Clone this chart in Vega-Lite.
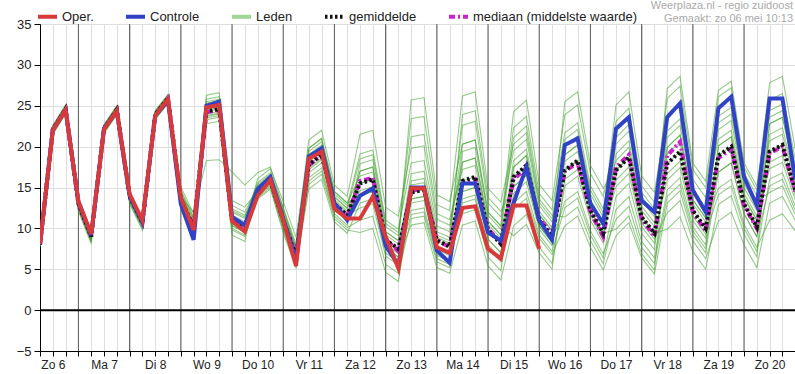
{
"$schema":"https://vega.github.io/schema/vega-lite/v6.json",
"width":755,"height":327,"autosize":"none",
"padding":{"left":40,"top":24,"right":0,"bottom":23},
"background":"#ffffff",
"config":{"font":"Liberation Sans","view":{"stroke":"#333","strokeWidth":1},
"axis":{"title":null,"grid":true,"gridColor":"#dedede","gridWidth":1,"domainColor":"#000","tickColor":"#000","tickSize":5,"labelColor":"#222","labelFont":"Liberation Sans"}},
"title":{"text":"Weerplaza.nl - regio zuidoost","subtitle":"Gemaakt: zo 06 mei 10:13","anchor":"end","frame":"group","fontSize":11,"subtitleFontSize":11,"fontWeight":"normal","color":"#aaaaaa","subtitleColor":"#aaaaaa","font":"Liberation Sans","subtitleFont":"Liberation Sans","offset":-19,"subtitlePadding":2,"dx":-2},
"datasets":{
"days":[{"h":24},{"h":48},{"h":72},{"h":96},{"h":120},{"h":144},{"h":168},{"h":192},{"h":216},{"h":240},{"h":264},{"h":288},{"h":312},{"h":336}],
"main":[
{"s":"Oper.","h":6,"t":8.1},{"s":"Oper.","h":12,"t":22.0},{"s":"Oper.","h":18,"t":24.5},{"s":"Oper.","h":24,"t":13.3},{"s":"Oper.","h":30,"t":9.3},{"s":"Oper.","h":36,"t":22.1},{"s":"Oper.","h":42,"t":24.4},{"s":"Oper.","h":48,"t":14.2},{"s":"Oper.","h":54,"t":11.0},{"s":"Oper.","h":60,"t":23.8},{"s":"Oper.","h":66,"t":25.8},{"s":"Oper.","h":72,"t":13.8},{"s":"Oper.","h":78,"t":9.8},{"s":"Oper.","h":84,"t":24.8},{"s":"Oper.","h":90,"t":25.1},{"s":"Oper.","h":96,"t":10.9},{"s":"Oper.","h":102,"t":9.6},{"s":"Oper.","h":108,"t":14.0},{"s":"Oper.","h":114,"t":15.9},{"s":"Oper.","h":120,"t":11.0},{"s":"Oper.","h":126,"t":5.4},{"s":"Oper.","h":132,"t":18.5},{"s":"Oper.","h":138,"t":19.4},{"s":"Oper.","h":144,"t":12.4},{"s":"Oper.","h":150,"t":11.2},{"s":"Oper.","h":156,"t":11.2},{"s":"Oper.","h":162,"t":13.9},{"s":"Oper.","h":168,"t":9.0},{"s":"Oper.","h":174,"t":5.1},{"s":"Oper.","h":180,"t":14.9},{"s":"Oper.","h":186,"t":14.9},{"s":"Oper.","h":192,"t":7.7},{"s":"Oper.","h":198,"t":7.0},{"s":"Oper.","h":204,"t":12.5},{"s":"Oper.","h":210,"t":12.7},{"s":"Oper.","h":216,"t":7.5},{"s":"Oper.","h":222,"t":6.3},{"s":"Oper.","h":228,"t":12.8},{"s":"Oper.","h":234,"t":12.8},{"s":"Oper.","h":240,"t":7.5},
{"s":"Controle","h":6,"t":8.0},{"s":"Controle","h":12,"t":22.0},{"s":"Controle","h":18,"t":24.5},{"s":"Controle","h":24,"t":13.3},{"s":"Controle","h":30,"t":9.2},{"s":"Controle","h":36,"t":22.2},{"s":"Controle","h":42,"t":24.3},{"s":"Controle","h":48,"t":14.0},{"s":"Controle","h":54,"t":10.8},{"s":"Controle","h":60,"t":23.8},{"s":"Controle","h":66,"t":25.6},{"s":"Controle","h":72,"t":13.0},{"s":"Controle","h":78,"t":8.6},{"s":"Controle","h":84,"t":25.0},{"s":"Controle","h":90,"t":25.5},{"s":"Controle","h":96,"t":11.4},{"s":"Controle","h":102,"t":10.4},{"s":"Controle","h":108,"t":14.8},{"s":"Controle","h":114,"t":16.3},{"s":"Controle","h":120,"t":11.2},{"s":"Controle","h":126,"t":6.0},{"s":"Controle","h":132,"t":18.8},{"s":"Controle","h":138,"t":19.8},{"s":"Controle","h":144,"t":13.1},{"s":"Controle","h":150,"t":11.0},{"s":"Controle","h":156,"t":14.0},{"s":"Controle","h":162,"t":14.9},{"s":"Controle","h":168,"t":7.9},{"s":"Controle","h":174,"t":5.5},{"s":"Controle","h":180,"t":15.0},{"s":"Controle","h":186,"t":15.0},{"s":"Controle","h":192,"t":7.3},{"s":"Controle","h":198,"t":5.8},{"s":"Controle","h":204,"t":15.5},{"s":"Controle","h":210,"t":15.5},{"s":"Controle","h":216,"t":9.5},{"s":"Controle","h":222,"t":8.5},{"s":"Controle","h":228,"t":13.1},{"s":"Controle","h":234,"t":17.5},{"s":"Controle","h":240,"t":11.0},{"s":"Controle","h":246,"t":8.6},{"s":"Controle","h":252,"t":20.2},{"s":"Controle","h":258,"t":21.0},{"s":"Controle","h":264,"t":13.0},{"s":"Controle","h":270,"t":10.6},{"s":"Controle","h":276,"t":22.2},{"s":"Controle","h":282,"t":23.6},{"s":"Controle","h":288,"t":13.4},{"s":"Controle","h":294,"t":12.0},{"s":"Controle","h":300,"t":23.6},{"s":"Controle","h":306,"t":25.3},{"s":"Controle","h":312,"t":14.7},{"s":"Controle","h":318,"t":12.0},{"s":"Controle","h":324,"t":24.7},{"s":"Controle","h":330,"t":26.1},{"s":"Controle","h":336,"t":16.3},{"s":"Controle","h":342,"t":12.8},{"s":"Controle","h":348,"t":25.9},{"s":"Controle","h":354,"t":25.9},{"s":"Controle","h":360,"t":16.0},
{"s":"gemiddelde","h":6,"t":8.0},{"s":"gemiddelde","h":12,"t":22.1},{"s":"gemiddelde","h":18,"t":24.6},{"s":"gemiddelde","h":24,"t":13.0},{"s":"gemiddelde","h":30,"t":9.0},{"s":"gemiddelde","h":36,"t":22.2},{"s":"gemiddelde","h":42,"t":24.5},{"s":"gemiddelde","h":48,"t":13.9},{"s":"gemiddelde","h":54,"t":10.7},{"s":"gemiddelde","h":60,"t":23.9},{"s":"gemiddelde","h":66,"t":25.9},{"s":"gemiddelde","h":72,"t":13.5},{"s":"gemiddelde","h":78,"t":10.2},{"s":"gemiddelde","h":84,"t":24.3},{"s":"gemiddelde","h":90,"t":24.6},{"s":"gemiddelde","h":96,"t":11.0},{"s":"gemiddelde","h":102,"t":10.2},{"s":"gemiddelde","h":108,"t":14.6},{"s":"gemiddelde","h":114,"t":15.8},{"s":"gemiddelde","h":120,"t":11.0},{"s":"gemiddelde","h":126,"t":6.6},{"s":"gemiddelde","h":132,"t":17.8},{"s":"gemiddelde","h":138,"t":19.0},{"s":"gemiddelde","h":144,"t":13.0},{"s":"gemiddelde","h":150,"t":11.6},{"s":"gemiddelde","h":156,"t":15.5},{"s":"gemiddelde","h":162,"t":16.0},{"s":"gemiddelde","h":168,"t":8.6},{"s":"gemiddelde","h":174,"t":7.5},{"s":"gemiddelde","h":180,"t":14.4},{"s":"gemiddelde","h":186,"t":14.7},{"s":"gemiddelde","h":192,"t":8.5},{"s":"gemiddelde","h":198,"t":7.8},{"s":"gemiddelde","h":204,"t":15.8},{"s":"gemiddelde","h":210,"t":16.3},{"s":"gemiddelde","h":216,"t":9.8},{"s":"gemiddelde","h":222,"t":8.1},{"s":"gemiddelde","h":228,"t":16.3},{"s":"gemiddelde","h":234,"t":17.7},{"s":"gemiddelde","h":240,"t":11.0},{"s":"gemiddelde","h":246,"t":9.0},{"s":"gemiddelde","h":252,"t":17.1},{"s":"gemiddelde","h":258,"t":18.3},{"s":"gemiddelde","h":264,"t":12.2},{"s":"gemiddelde","h":270,"t":9.4},{"s":"gemiddelde","h":276,"t":17.1},{"s":"gemiddelde","h":282,"t":18.7},{"s":"gemiddelde","h":288,"t":11.4},{"s":"gemiddelde","h":294,"t":9.4},{"s":"gemiddelde","h":300,"t":17.9},{"s":"gemiddelde","h":306,"t":19.4},{"s":"gemiddelde","h":312,"t":12.2},{"s":"gemiddelde","h":318,"t":10.0},{"s":"gemiddelde","h":324,"t":18.9},{"s":"gemiddelde","h":330,"t":20.0},{"s":"gemiddelde","h":336,"t":13.0},{"s":"gemiddelde","h":342,"t":10.2},{"s":"gemiddelde","h":348,"t":19.4},{"s":"gemiddelde","h":354,"t":20.2},{"s":"gemiddelde","h":360,"t":14.7},
{"s":"mediaan (middelste waarde)","h":6,"t":8.0},{"s":"mediaan (middelste waarde)","h":12,"t":22.1},{"s":"mediaan (middelste waarde)","h":18,"t":24.6},{"s":"mediaan (middelste waarde)","h":24,"t":13.0},{"s":"mediaan (middelste waarde)","h":30,"t":9.0},{"s":"mediaan (middelste waarde)","h":36,"t":22.2},{"s":"mediaan (middelste waarde)","h":42,"t":24.5},{"s":"mediaan (middelste waarde)","h":48,"t":13.9},{"s":"mediaan (middelste waarde)","h":54,"t":10.7},{"s":"mediaan (middelste waarde)","h":60,"t":23.9},{"s":"mediaan (middelste waarde)","h":66,"t":25.9},{"s":"mediaan (middelste waarde)","h":72,"t":13.5},{"s":"mediaan (middelste waarde)","h":78,"t":10.2},{"s":"mediaan (middelste waarde)","h":84,"t":24.2},{"s":"mediaan (middelste waarde)","h":90,"t":24.5},{"s":"mediaan (middelste waarde)","h":96,"t":11.0},{"s":"mediaan (middelste waarde)","h":102,"t":10.1},{"s":"mediaan (middelste waarde)","h":108,"t":14.6},{"s":"mediaan (middelste waarde)","h":114,"t":15.8},{"s":"mediaan (middelste waarde)","h":120,"t":11.0},{"s":"mediaan (middelste waarde)","h":126,"t":6.7},{"s":"mediaan (middelste waarde)","h":132,"t":17.7},{"s":"mediaan (middelste waarde)","h":138,"t":19.0},{"s":"mediaan (middelste waarde)","h":144,"t":13.0},{"s":"mediaan (middelste waarde)","h":150,"t":11.5},{"s":"mediaan (middelste waarde)","h":156,"t":15.8},{"s":"mediaan (middelste waarde)","h":162,"t":16.2},{"s":"mediaan (middelste waarde)","h":168,"t":8.7},{"s":"mediaan (middelste waarde)","h":174,"t":7.2},{"s":"mediaan (middelste waarde)","h":180,"t":14.6},{"s":"mediaan (middelste waarde)","h":186,"t":14.9},{"s":"mediaan (middelste waarde)","h":192,"t":8.6},{"s":"mediaan (middelste waarde)","h":198,"t":7.7},{"s":"mediaan (middelste waarde)","h":204,"t":15.5},{"s":"mediaan (middelste waarde)","h":210,"t":16.0},{"s":"mediaan (middelste waarde)","h":216,"t":9.9},{"s":"mediaan (middelste waarde)","h":222,"t":8.3},{"s":"mediaan (middelste waarde)","h":228,"t":16.0},{"s":"mediaan (middelste waarde)","h":234,"t":17.4},{"s":"mediaan (middelste waarde)","h":240,"t":11.2},{"s":"mediaan (middelste waarde)","h":246,"t":9.3},{"s":"mediaan (middelste waarde)","h":252,"t":17.0},{"s":"mediaan (middelste waarde)","h":258,"t":18.0},{"s":"mediaan (middelste waarde)","h":264,"t":12.0},{"s":"mediaan (middelste waarde)","h":270,"t":9.0},{"s":"mediaan (middelste waarde)","h":276,"t":17.5},{"s":"mediaan (middelste waarde)","h":282,"t":19.0},{"s":"mediaan (middelste waarde)","h":288,"t":11.2},{"s":"mediaan (middelste waarde)","h":294,"t":9.0},{"s":"mediaan (middelste waarde)","h":300,"t":18.9},{"s":"mediaan (middelste waarde)","h":306,"t":20.6},{"s":"mediaan (middelste waarde)","h":312,"t":12.0},{"s":"mediaan (middelste waarde)","h":318,"t":9.7},{"s":"mediaan (middelste waarde)","h":324,"t":18.6},{"s":"mediaan (middelste waarde)","h":330,"t":19.7},{"s":"mediaan (middelste waarde)","h":336,"t":12.8},{"s":"mediaan (middelste waarde)","h":342,"t":10.0},{"s":"mediaan (middelste waarde)","h":348,"t":19.2},{"s":"mediaan (middelste waarde)","h":354,"t":20.0},{"s":"mediaan (middelste waarde)","h":360,"t":14.5}
],
"leden":[
{"i":1,"h":6,"t":8.0},{"i":1,"h":12,"t":22.2},{"i":1,"h":18,"t":24.7},{"i":1,"h":24,"t":13.0},{"i":1,"h":30,"t":9.0},{"i":1,"h":36,"t":22.3},{"i":1,"h":42,"t":24.6},{"i":1,"h":48,"t":13.9},{"i":1,"h":54,"t":10.7},{"i":1,"h":60,"t":24.0},{"i":1,"h":66,"t":26.0},{"i":1,"h":72,"t":13.9},{"i":1,"h":78,"t":10.6},{"i":1,"h":84,"t":24.8},{"i":1,"h":90,"t":25.1},{"i":1,"h":96,"t":11.6},{"i":1,"h":102,"t":10.8},{"i":1,"h":108,"t":14.9},{"i":1,"h":114,"t":16.1},{"i":1,"h":120,"t":11.5},{"i":1,"h":126,"t":7.1},{"i":1,"h":132,"t":18.8},{"i":1,"h":138,"t":20.0},{"i":1,"h":144,"t":13.8},{"i":1,"h":150,"t":12.4},{"i":1,"h":156,"t":18.5},{"i":1,"h":162,"t":19.0},{"i":1,"h":168,"t":10.6},{"i":1,"h":174,"t":9.5},{"i":1,"h":180,"t":23.4},{"i":1,"h":186,"t":23.7},{"i":1,"h":192,"t":12.9},{"i":1,"h":198,"t":12.2},{"i":1,"h":204,"t":26.2},{"i":1,"h":210,"t":26.7},{"i":1,"h":216,"t":14.9},{"i":1,"h":222,"t":13.2},{"i":1,"h":228,"t":20.3},{"i":1,"h":234,"t":21.7},{"i":1,"h":240,"t":13.2},{"i":1,"h":246,"t":11.2},{"i":1,"h":252,"t":19.0},{"i":1,"h":258,"t":20.2},{"i":1,"h":264,"t":13.5},{"i":1,"h":270,"t":10.7},{"i":1,"h":276,"t":17.1},{"i":1,"h":282,"t":18.7},{"i":1,"h":288,"t":11.4},{"i":1,"h":294,"t":9.4},{"i":1,"h":300,"t":15.9},{"i":1,"h":306,"t":17.4},{"i":1,"h":312,"t":11.0},{"i":1,"h":318,"t":8.8},{"i":1,"h":324,"t":20.1},{"i":1,"h":330,"t":21.2},{"i":1,"h":336,"t":13.8},{"i":1,"h":342,"t":11.0},{"i":1,"h":348,"t":22.8},{"i":1,"h":354,"t":23.6},{"i":1,"h":360,"t":16.7},
{"i":2,"h":6,"t":7.9},{"i":2,"h":12,"t":21.7},{"i":2,"h":18,"t":24.2},{"i":2,"h":24,"t":12.5},{"i":2,"h":30,"t":8.5},{"i":2,"h":36,"t":21.8},{"i":2,"h":42,"t":24.1},{"i":2,"h":48,"t":13.4},{"i":2,"h":54,"t":10.2},{"i":2,"h":60,"t":23.5},{"i":2,"h":66,"t":25.5},{"i":2,"h":72,"t":13.1},{"i":2,"h":78,"t":9.8},{"i":2,"h":84,"t":23.8},{"i":2,"h":90,"t":24.1},{"i":2,"h":96,"t":10.4},{"i":2,"h":102,"t":9.6},{"i":2,"h":108,"t":14.1},{"i":2,"h":114,"t":15.3},{"i":2,"h":120,"t":10.3},{"i":2,"h":126,"t":5.9},{"i":2,"h":132,"t":15.8},{"i":2,"h":138,"t":17.0},{"i":2,"h":144,"t":11.5},{"i":2,"h":150,"t":10.1},{"i":2,"h":156,"t":11.0},{"i":2,"h":162,"t":11.5},{"i":2,"h":168,"t":5.6},{"i":2,"h":174,"t":4.5},{"i":2,"h":180,"t":11.2},{"i":2,"h":186,"t":11.5},{"i":2,"h":192,"t":5.9},{"i":2,"h":198,"t":5.2},{"i":2,"h":204,"t":14.5},{"i":2,"h":210,"t":15.0},{"i":2,"h":216,"t":8.7},{"i":2,"h":222,"t":7.0},{"i":2,"h":228,"t":17.5},{"i":2,"h":234,"t":18.9},{"i":2,"h":240,"t":11.7},{"i":2,"h":246,"t":9.7},{"i":2,"h":252,"t":20.9},{"i":2,"h":258,"t":22.1},{"i":2,"h":264,"t":14.7},{"i":2,"h":270,"t":11.9},{"i":2,"h":276,"t":23.1},{"i":2,"h":282,"t":24.7},{"i":2,"h":288,"t":15.2},{"i":2,"h":294,"t":13.2},{"i":2,"h":300,"t":25.9},{"i":2,"h":306,"t":27.4},{"i":2,"h":312,"t":17.2},{"i":2,"h":318,"t":15.0},{"i":2,"h":324,"t":24.9},{"i":2,"h":330,"t":26.0},{"i":2,"h":336,"t":16.8},{"i":2,"h":342,"t":14.0},{"i":2,"h":348,"t":23.6},{"i":2,"h":354,"t":24.4},{"i":2,"h":360,"t":17.2},
{"i":3,"h":6,"t":8.1},{"i":3,"h":12,"t":22.5},{"i":3,"h":18,"t":25.0},{"i":3,"h":24,"t":13.2},{"i":3,"h":30,"t":9.2},{"i":3,"h":36,"t":22.6},{"i":3,"h":42,"t":24.9},{"i":3,"h":48,"t":14.1},{"i":3,"h":54,"t":10.9},{"i":3,"h":60,"t":24.3},{"i":3,"h":66,"t":26.3},{"i":3,"h":72,"t":14.3},{"i":3,"h":78,"t":11.0},{"i":3,"h":84,"t":25.3},{"i":3,"h":90,"t":25.6},{"i":3,"h":96,"t":12.2},{"i":3,"h":102,"t":11.4},{"i":3,"h":108,"t":15.6},{"i":3,"h":114,"t":16.8},{"i":3,"h":120,"t":12.5},{"i":3,"h":126,"t":8.1},{"i":3,"h":132,"t":20.8},{"i":3,"h":138,"t":22.0},{"i":3,"h":144,"t":15.3},{"i":3,"h":150,"t":13.9},{"i":3,"h":156,"t":21.5},{"i":3,"h":162,"t":22.0},{"i":3,"h":168,"t":12.6},{"i":3,"h":174,"t":11.5},{"i":3,"h":180,"t":19.8},{"i":3,"h":186,"t":20.1},{"i":3,"h":192,"t":11.1},{"i":3,"h":198,"t":10.4},{"i":3,"h":204,"t":18.1},{"i":3,"h":210,"t":18.6},{"i":3,"h":216,"t":10.9},{"i":3,"h":222,"t":9.2},{"i":3,"h":228,"t":15.1},{"i":3,"h":234,"t":16.5},{"i":3,"h":240,"t":10.3},{"i":3,"h":246,"t":8.3},{"i":3,"h":252,"t":13.3},{"i":3,"h":258,"t":14.5},{"i":3,"h":264,"t":9.7},{"i":3,"h":270,"t":6.9},{"i":3,"h":276,"t":11.1},{"i":3,"h":282,"t":12.7},{"i":3,"h":288,"t":7.7},{"i":3,"h":294,"t":5.7},{"i":3,"h":300,"t":13.9},{"i":3,"h":306,"t":15.4},{"i":3,"h":312,"t":9.7},{"i":3,"h":318,"t":7.5},{"i":3,"h":324,"t":18.9},{"i":3,"h":330,"t":20.0},{"i":3,"h":336,"t":13.0},{"i":3,"h":342,"t":10.2},{"i":3,"h":348,"t":21.5},{"i":3,"h":354,"t":22.3},{"i":3,"h":360,"t":16.0},
{"i":4,"h":6,"t":7.7},{"i":4,"h":12,"t":21.5},{"i":4,"h":18,"t":24.0},{"i":4,"h":24,"t":12.1},{"i":4,"h":30,"t":8.1},{"i":4,"h":36,"t":21.6},{"i":4,"h":42,"t":23.9},{"i":4,"h":48,"t":13.0},{"i":4,"h":54,"t":9.8},{"i":4,"h":60,"t":23.3},{"i":4,"h":66,"t":25.3},{"i":4,"h":72,"t":12.7},{"i":4,"h":78,"t":9.4},{"i":4,"h":84,"t":23.3},{"i":4,"h":90,"t":23.6},{"i":4,"h":96,"t":9.8},{"i":4,"h":102,"t":9.0},{"i":4,"h":108,"t":13.6},{"i":4,"h":114,"t":14.8},{"i":4,"h":120,"t":9.5},{"i":4,"h":126,"t":5.1},{"i":4,"h":132,"t":16.8},{"i":4,"h":138,"t":18.0},{"i":4,"h":144,"t":12.3},{"i":4,"h":150,"t":10.9},{"i":4,"h":156,"t":15.5},{"i":4,"h":162,"t":16.0},{"i":4,"h":168,"t":8.6},{"i":4,"h":174,"t":7.5},{"i":4,"h":180,"t":16.7},{"i":4,"h":186,"t":17.0},{"i":4,"h":192,"t":9.6},{"i":4,"h":198,"t":8.9},{"i":4,"h":204,"t":20.3},{"i":4,"h":210,"t":20.8},{"i":4,"h":216,"t":12.0},{"i":4,"h":222,"t":10.3},{"i":4,"h":228,"t":24.3},{"i":4,"h":234,"t":25.7},{"i":4,"h":240,"t":15.4},{"i":4,"h":246,"t":13.4},{"i":4,"h":252,"t":23.9},{"i":4,"h":258,"t":25.1},{"i":4,"h":264,"t":16.7},{"i":4,"h":270,"t":13.9},{"i":4,"h":276,"t":21.1},{"i":4,"h":282,"t":22.7},{"i":4,"h":288,"t":13.9},{"i":4,"h":294,"t":11.9},{"i":4,"h":300,"t":19.9},{"i":4,"h":306,"t":21.4},{"i":4,"h":312,"t":13.5},{"i":4,"h":318,"t":11.3},{"i":4,"h":324,"t":16.9},{"i":4,"h":330,"t":18.0},{"i":4,"h":336,"t":11.8},{"i":4,"h":342,"t":9.0},{"i":4,"h":348,"t":15.2},{"i":4,"h":354,"t":16.0},{"i":4,"h":360,"t":12.2},
{"i":5,"h":6,"t":8.1},{"i":5,"h":12,"t":22.1},{"i":5,"h":18,"t":24.6},{"i":5,"h":24,"t":13.3},{"i":5,"h":30,"t":9.3},{"i":5,"h":36,"t":22.2},{"i":5,"h":42,"t":24.5},{"i":5,"h":48,"t":14.2},{"i":5,"h":54,"t":11.0},{"i":5,"h":60,"t":23.9},{"i":5,"h":66,"t":25.9},{"i":5,"h":72,"t":13.7},{"i":5,"h":78,"t":10.4},{"i":5,"h":84,"t":24.5},{"i":5,"h":90,"t":24.8},{"i":5,"h":96,"t":11.2},{"i":5,"h":102,"t":10.4},{"i":5,"h":108,"t":14.6},{"i":5,"h":114,"t":15.8},{"i":5,"h":120,"t":11.0},{"i":5,"h":126,"t":6.6},{"i":5,"h":132,"t":18.4},{"i":5,"h":138,"t":19.6},{"i":5,"h":144,"t":13.5},{"i":5,"h":150,"t":12.1},{"i":5,"h":156,"t":14.0},{"i":5,"h":162,"t":14.5},{"i":5,"h":168,"t":7.6},{"i":5,"h":174,"t":6.5},{"i":5,"h":180,"t":10.4},{"i":5,"h":186,"t":10.7},{"i":5,"h":192,"t":5.2},{"i":5,"h":198,"t":4.5},{"i":5,"h":204,"t":10.4},{"i":5,"h":210,"t":10.9},{"i":5,"h":216,"t":5.4},{"i":5,"h":222,"t":3.7},{"i":5,"h":228,"t":10.3},{"i":5,"h":234,"t":11.7},{"i":5,"h":240,"t":7.7},{"i":5,"h":246,"t":5.7},{"i":5,"h":252,"t":15.2},{"i":5,"h":258,"t":16.4},{"i":5,"h":264,"t":11.0},{"i":5,"h":270,"t":8.2},{"i":5,"h":276,"t":19.1},{"i":5,"h":282,"t":20.7},{"i":5,"h":288,"t":12.7},{"i":5,"h":294,"t":10.7},{"i":5,"h":300,"t":21.9},{"i":5,"h":306,"t":23.4},{"i":5,"h":312,"t":14.7},{"i":5,"h":318,"t":12.5},{"i":5,"h":324,"t":26.1},{"i":5,"h":330,"t":27.2},{"i":5,"h":336,"t":17.5},{"i":5,"h":342,"t":14.7},{"i":5,"h":348,"t":27.8},{"i":5,"h":354,"t":28.6},{"i":5,"h":360,"t":19.7},
{"i":6,"h":6,"t":8.0},{"i":6,"h":12,"t":22.3},{"i":6,"h":18,"t":24.8},{"i":6,"h":24,"t":12.8},{"i":6,"h":30,"t":8.8},{"i":6,"h":36,"t":22.4},{"i":6,"h":42,"t":24.7},{"i":6,"h":48,"t":13.7},{"i":6,"h":54,"t":10.5},{"i":6,"h":60,"t":24.1},{"i":6,"h":66,"t":26.1},{"i":6,"h":72,"t":14.7},{"i":6,"h":78,"t":11.4},{"i":6,"h":84,"t":25.8},{"i":6,"h":90,"t":26.1},{"i":6,"h":96,"t":12.8},{"i":6,"h":102,"t":12.0},{"i":6,"h":108,"t":15.1},{"i":6,"h":114,"t":16.3},{"i":6,"h":120,"t":11.8},{"i":6,"h":126,"t":7.4},{"i":6,"h":132,"t":17.2},{"i":6,"h":138,"t":18.4},{"i":6,"h":144,"t":12.6},{"i":6,"h":150,"t":11.2},{"i":6,"h":156,"t":17.0},{"i":6,"h":162,"t":17.5},{"i":6,"h":168,"t":9.6},{"i":6,"h":174,"t":8.5},{"i":6,"h":180,"t":14.4},{"i":6,"h":186,"t":14.7},{"i":6,"h":192,"t":8.5},{"i":6,"h":198,"t":7.8},{"i":6,"h":204,"t":14.5},{"i":6,"h":210,"t":15.0},{"i":6,"h":216,"t":8.7},{"i":6,"h":222,"t":7.0},{"i":6,"h":228,"t":12.3},{"i":6,"h":234,"t":13.7},{"i":6,"h":240,"t":8.8},{"i":6,"h":246,"t":6.8},{"i":6,"h":252,"t":10.3},{"i":6,"h":258,"t":11.5},{"i":6,"h":264,"t":7.7},{"i":6,"h":270,"t":4.9},{"i":6,"h":276,"t":9.1},{"i":6,"h":282,"t":10.7},{"i":6,"h":288,"t":6.4},{"i":6,"h":294,"t":4.4},{"i":6,"h":300,"t":13.1},{"i":6,"h":306,"t":14.6},{"i":6,"h":312,"t":9.2},{"i":6,"h":318,"t":7.0},{"i":6,"h":324,"t":16.9},{"i":6,"h":330,"t":18.0},{"i":6,"h":336,"t":11.8},{"i":6,"h":342,"t":9.0},{"i":6,"h":348,"t":19.4},{"i":6,"h":354,"t":20.2},{"i":6,"h":360,"t":14.7},
{"i":7,"h":6,"t":7.8},{"i":7,"h":12,"t":21.8},{"i":7,"h":18,"t":24.3},{"i":7,"h":24,"t":12.4},{"i":7,"h":30,"t":8.4},{"i":7,"h":36,"t":21.9},{"i":7,"h":42,"t":24.2},{"i":7,"h":48,"t":13.3},{"i":7,"h":54,"t":10.1},{"i":7,"h":60,"t":23.6},{"i":7,"h":66,"t":25.6},{"i":7,"h":72,"t":13.3},{"i":7,"h":78,"t":10.0},{"i":7,"h":84,"t":24.0},{"i":7,"h":90,"t":24.3},{"i":7,"h":96,"t":10.6},{"i":7,"h":102,"t":9.8},{"i":7,"h":108,"t":14.3},{"i":7,"h":114,"t":15.5},{"i":7,"h":120,"t":10.6},{"i":7,"h":126,"t":6.2},{"i":7,"h":132,"t":19.4},{"i":7,"h":138,"t":20.6},{"i":7,"h":144,"t":14.2},{"i":7,"h":150,"t":12.8},{"i":7,"h":156,"t":19.1},{"i":7,"h":162,"t":19.6},{"i":7,"h":168,"t":11.0},{"i":7,"h":174,"t":9.9},{"i":7,"h":180,"t":18.0},{"i":7,"h":186,"t":18.3},{"i":7,"h":192,"t":10.3},{"i":7,"h":198,"t":9.6},{"i":7,"h":204,"t":22.6},{"i":7,"h":210,"t":23.1},{"i":7,"h":216,"t":13.1},{"i":7,"h":222,"t":11.4},{"i":7,"h":228,"t":19.5},{"i":7,"h":234,"t":20.9},{"i":7,"h":240,"t":12.8},{"i":7,"h":246,"t":10.8},{"i":7,"h":252,"t":17.1},{"i":7,"h":258,"t":18.3},{"i":7,"h":264,"t":12.2},{"i":7,"h":270,"t":9.4},{"i":7,"h":276,"t":15.1},{"i":7,"h":282,"t":16.7},{"i":7,"h":288,"t":10.2},{"i":7,"h":294,"t":8.2},{"i":7,"h":300,"t":17.9},{"i":7,"h":306,"t":19.4},{"i":7,"h":312,"t":12.2},{"i":7,"h":318,"t":10.0},{"i":7,"h":324,"t":22.9},{"i":7,"h":330,"t":24.0},{"i":7,"h":336,"t":15.5},{"i":7,"h":342,"t":12.7},{"i":7,"h":348,"t":25.7},{"i":7,"h":354,"t":26.5},{"i":7,"h":360,"t":18.5},
{"i":8,"h":6,"t":8.2},{"i":8,"h":12,"t":22.6},{"i":8,"h":18,"t":25.1},{"i":8,"h":24,"t":13.5},{"i":8,"h":30,"t":9.5},{"i":8,"h":36,"t":22.7},{"i":8,"h":42,"t":25.0},{"i":8,"h":48,"t":14.4},{"i":8,"h":54,"t":11.2},{"i":8,"h":60,"t":24.4},{"i":8,"h":66,"t":26.4},{"i":8,"h":72,"t":14.1},{"i":8,"h":78,"t":10.8},{"i":8,"h":84,"t":25.1},{"i":8,"h":90,"t":25.4},{"i":8,"h":96,"t":12.0},{"i":8,"h":102,"t":11.2},{"i":8,"h":108,"t":15.4},{"i":8,"h":114,"t":16.6},{"i":8,"h":120,"t":12.2},{"i":8,"h":126,"t":7.8},{"i":8,"h":132,"t":17.8},{"i":8,"h":138,"t":19.0},{"i":8,"h":144,"t":13.0},{"i":8,"h":150,"t":11.6},{"i":8,"h":156,"t":12.5},{"i":8,"h":162,"t":13.0},{"i":8,"h":168,"t":6.6},{"i":8,"h":174,"t":5.5},{"i":8,"h":180,"t":13.1},{"i":8,"h":186,"t":13.4},{"i":8,"h":192,"t":7.4},{"i":8,"h":198,"t":6.7},{"i":8,"h":204,"t":15.8},{"i":8,"h":210,"t":16.3},{"i":8,"h":216,"t":9.8},{"i":8,"h":222,"t":8.1},{"i":8,"h":228,"t":18.3},{"i":8,"h":234,"t":19.7},{"i":8,"h":240,"t":12.1},{"i":8,"h":246,"t":10.1},{"i":8,"h":252,"t":20.1},{"i":8,"h":258,"t":21.3},{"i":8,"h":264,"t":14.2},{"i":8,"h":270,"t":11.4},{"i":8,"h":276,"t":25.1},{"i":8,"h":282,"t":26.7},{"i":8,"h":288,"t":16.4},{"i":8,"h":294,"t":14.4},{"i":8,"h":300,"t":23.9},{"i":8,"h":306,"t":25.4},{"i":8,"h":312,"t":16.0},{"i":8,"h":318,"t":13.8},{"i":8,"h":324,"t":20.9},{"i":8,"h":330,"t":22.0},{"i":8,"h":336,"t":14.3},{"i":8,"h":342,"t":11.5},{"i":8,"h":348,"t":17.3},{"i":8,"h":354,"t":18.1},{"i":8,"h":360,"t":13.5},
{"i":9,"h":6,"t":7.9},{"i":9,"h":12,"t":21.9},{"i":9,"h":18,"t":24.4},{"i":9,"h":24,"t":12.7},{"i":9,"h":30,"t":8.7},{"i":9,"h":36,"t":22.0},{"i":9,"h":42,"t":24.3},{"i":9,"h":48,"t":13.6},{"i":9,"h":54,"t":10.4},{"i":9,"h":60,"t":23.7},{"i":9,"h":66,"t":25.7},{"i":9,"h":72,"t":12.9},{"i":9,"h":78,"t":9.6},{"i":9,"h":84,"t":23.5},{"i":9,"h":90,"t":23.8},{"i":9,"h":96,"t":10.0},{"i":9,"h":102,"t":9.2},{"i":9,"h":108,"t":13.8},{"i":9,"h":114,"t":15.0},{"i":9,"h":120,"t":9.8},{"i":9,"h":126,"t":5.4},{"i":9,"h":132,"t":14.8},{"i":9,"h":138,"t":16.0},{"i":9,"h":144,"t":10.8},{"i":9,"h":150,"t":9.4},{"i":9,"h":156,"t":13.1},{"i":9,"h":162,"t":13.6},{"i":9,"h":168,"t":7.0},{"i":9,"h":174,"t":5.9},{"i":9,"h":180,"t":15.8},{"i":9,"h":186,"t":16.1},{"i":9,"h":192,"t":9.2},{"i":9,"h":198,"t":8.5},{"i":9,"h":204,"t":13.1},{"i":9,"h":210,"t":13.6},{"i":9,"h":216,"t":7.6},{"i":9,"h":222,"t":5.9},{"i":9,"h":228,"t":14.3},{"i":9,"h":234,"t":15.7},{"i":9,"h":240,"t":9.9},{"i":9,"h":246,"t":7.9},{"i":9,"h":252,"t":18.2},{"i":9,"h":258,"t":19.4},{"i":9,"h":264,"t":13.0},{"i":9,"h":270,"t":10.2},{"i":9,"h":276,"t":15.9},{"i":9,"h":282,"t":17.5},{"i":9,"h":288,"t":10.7},{"i":9,"h":294,"t":8.7},{"i":9,"h":300,"t":11.9},{"i":9,"h":306,"t":13.4},{"i":9,"h":312,"t":8.5},{"i":9,"h":318,"t":6.3},{"i":9,"h":324,"t":10.9},{"i":9,"h":330,"t":12.0},{"i":9,"h":336,"t":8.0},{"i":9,"h":342,"t":5.2},{"i":9,"h":348,"t":13.1},{"i":9,"h":354,"t":13.9},{"i":9,"h":360,"t":11.0},
{"i":10,"h":6,"t":8.0},{"i":10,"h":12,"t":22.4},{"i":10,"h":18,"t":24.9},{"i":10,"h":24,"t":13.1},{"i":10,"h":30,"t":9.1},{"i":10,"h":36,"t":22.5},{"i":10,"h":42,"t":24.8},{"i":10,"h":48,"t":14.0},{"i":10,"h":54,"t":10.8},{"i":10,"h":60,"t":24.2},{"i":10,"h":66,"t":26.2},{"i":10,"h":72,"t":13.7},{"i":10,"h":78,"t":10.4},{"i":10,"h":84,"t":24.6},{"i":10,"h":90,"t":24.9},{"i":10,"h":96,"t":11.4},{"i":10,"h":102,"t":10.6},{"i":10,"h":108,"t":14.8},{"i":10,"h":114,"t":16.0},{"i":10,"h":120,"t":11.3},{"i":10,"h":126,"t":6.9},{"i":10,"h":132,"t":19.8},{"i":10,"h":138,"t":21.0},{"i":10,"h":144,"t":14.5},{"i":10,"h":150,"t":13.1},{"i":10,"h":156,"t":16.4},{"i":10,"h":162,"t":16.9},{"i":10,"h":168,"t":9.2},{"i":10,"h":174,"t":8.1},{"i":10,"h":180,"t":12.2},{"i":10,"h":186,"t":12.5},{"i":10,"h":192,"t":6.7},{"i":10,"h":198,"t":6.0},{"i":10,"h":204,"t":19.4},{"i":10,"h":210,"t":19.9},{"i":10,"h":216,"t":11.6},{"i":10,"h":222,"t":9.9},{"i":10,"h":228,"t":22.3},{"i":10,"h":234,"t":23.7},{"i":10,"h":240,"t":14.3},{"i":10,"h":246,"t":12.3},{"i":10,"h":252,"t":21.7},{"i":10,"h":258,"t":22.9},{"i":10,"h":264,"t":15.2},{"i":10,"h":270,"t":12.4},{"i":10,"h":276,"t":18.3},{"i":10,"h":282,"t":19.9},{"i":10,"h":288,"t":12.2},{"i":10,"h":294,"t":10.2},{"i":10,"h":300,"t":21.1},{"i":10,"h":306,"t":22.6},{"i":10,"h":312,"t":14.2},{"i":10,"h":318,"t":12.0},{"i":10,"h":324,"t":22.1},{"i":10,"h":330,"t":23.2},{"i":10,"h":336,"t":15.0},{"i":10,"h":342,"t":12.2},{"i":10,"h":348,"t":20.7},{"i":10,"h":354,"t":21.5},{"i":10,"h":360,"t":15.5},
{"i":11,"h":6,"t":7.8},{"i":11,"h":12,"t":22.0},{"i":11,"h":18,"t":24.5},{"i":11,"h":24,"t":12.3},{"i":11,"h":30,"t":8.3},{"i":11,"h":36,"t":22.1},{"i":11,"h":42,"t":24.4},{"i":11,"h":48,"t":13.2},{"i":11,"h":54,"t":10.0},{"i":11,"h":60,"t":23.8},{"i":11,"h":66,"t":25.8},{"i":11,"h":72,"t":13.8},{"i":11,"h":78,"t":12.0},{"i":11,"h":84,"t":18.3},{"i":11,"h":90,"t":18.4},{"i":11,"h":96,"t":16.9},{"i":11,"h":102,"t":15.3},{"i":11,"h":108,"t":16.8},{"i":11,"h":114,"t":17.5},{"i":11,"h":120,"t":12.5},{"i":11,"h":126,"t":7.5},{"i":11,"h":132,"t":16.2},{"i":11,"h":138,"t":17.4},{"i":11,"h":144,"t":11.8},{"i":11,"h":150,"t":10.4},{"i":11,"h":156,"t":17.9},{"i":11,"h":162,"t":18.4},{"i":11,"h":168,"t":10.2},{"i":11,"h":174,"t":9.1},{"i":11,"h":180,"t":21.2},{"i":11,"h":186,"t":21.5},{"i":11,"h":192,"t":11.8},{"i":11,"h":198,"t":11.1},{"i":11,"h":204,"t":17.2},{"i":11,"h":210,"t":17.7},{"i":11,"h":216,"t":10.5},{"i":11,"h":222,"t":8.8},{"i":11,"h":228,"t":13.1},{"i":11,"h":234,"t":14.5},{"i":11,"h":240,"t":9.2},{"i":11,"h":246,"t":7.2},{"i":11,"h":252,"t":12.5},{"i":11,"h":258,"t":13.7},{"i":11,"h":264,"t":9.2},{"i":11,"h":270,"t":6.4},{"i":11,"h":276,"t":13.9},{"i":11,"h":282,"t":15.5},{"i":11,"h":288,"t":9.4},{"i":11,"h":294,"t":7.4},{"i":11,"h":300,"t":19.1},{"i":11,"h":306,"t":20.6},{"i":11,"h":312,"t":13.0},{"i":11,"h":318,"t":10.8},{"i":11,"h":324,"t":14.9},{"i":11,"h":330,"t":16.0},{"i":11,"h":336,"t":10.5},{"i":11,"h":342,"t":7.7},{"i":11,"h":348,"t":11.0},{"i":11,"h":354,"t":11.8},{"i":11,"h":360,"t":9.7},
{"i":12,"h":6,"t":8.0},{"i":12,"h":12,"t":21.6},{"i":12,"h":18,"t":24.1},{"i":12,"h":24,"t":12.9},{"i":12,"h":30,"t":8.9},{"i":12,"h":36,"t":21.7},{"i":12,"h":42,"t":24.0},{"i":12,"h":48,"t":13.8},{"i":12,"h":54,"t":10.6},{"i":12,"h":60,"t":23.4},{"i":12,"h":66,"t":25.4},{"i":12,"h":72,"t":12.3},{"i":12,"h":78,"t":9.0},{"i":12,"h":84,"t":22.8},{"i":12,"h":90,"t":23.1},{"i":12,"h":96,"t":9.2},{"i":12,"h":102,"t":8.4},{"i":12,"h":108,"t":15.2},{"i":12,"h":114,"t":16.4},{"i":12,"h":120,"t":11.9},{"i":12,"h":126,"t":7.5},{"i":12,"h":132,"t":18.2},{"i":12,"h":138,"t":19.4},{"i":12,"h":144,"t":13.3},{"i":12,"h":150,"t":11.9},{"i":12,"h":156,"t":14.6},{"i":12,"h":162,"t":15.1},{"i":12,"h":168,"t":8.0},{"i":12,"h":174,"t":6.9},{"i":12,"h":180,"t":13.6},{"i":12,"h":186,"t":13.9},{"i":12,"h":192,"t":7.8},{"i":12,"h":198,"t":7.1},{"i":12,"h":204,"t":11.8},{"i":12,"h":210,"t":12.3},{"i":12,"h":216,"t":6.5},{"i":12,"h":222,"t":4.8},{"i":12,"h":228,"t":16.3},{"i":12,"h":234,"t":17.7},{"i":12,"h":240,"t":11.0},{"i":12,"h":246,"t":9.0},{"i":12,"h":252,"t":19.0},{"i":12,"h":258,"t":20.2},{"i":12,"h":264,"t":13.5},{"i":12,"h":270,"t":10.7},{"i":12,"h":276,"t":21.9},{"i":12,"h":282,"t":23.5},{"i":12,"h":288,"t":14.4},{"i":12,"h":294,"t":12.4},{"i":12,"h":300,"t":16.7},{"i":12,"h":306,"t":18.2},{"i":12,"h":312,"t":11.5},{"i":12,"h":318,"t":9.3},{"i":12,"h":324,"t":14.1},{"i":12,"h":330,"t":15.2},{"i":12,"h":336,"t":10.0},{"i":12,"h":342,"t":7.2},{"i":12,"h":348,"t":16.0},{"i":12,"h":354,"t":16.8},{"i":12,"h":360,"t":12.7},
{"i":13,"h":6,"t":8.1},{"i":13,"h":12,"t":22.3},{"i":13,"h":18,"t":24.8},{"i":13,"h":24,"t":13.4},{"i":13,"h":30,"t":9.4},{"i":13,"h":36,"t":22.4},{"i":13,"h":42,"t":24.7},{"i":13,"h":48,"t":14.3},{"i":13,"h":54,"t":11.1},{"i":13,"h":60,"t":24.1},{"i":13,"h":66,"t":26.1},{"i":13,"h":72,"t":14.5},{"i":13,"h":78,"t":11.2},{"i":13,"h":84,"t":25.5},{"i":13,"h":90,"t":25.8},{"i":13,"h":96,"t":12.4},{"i":13,"h":102,"t":11.6},{"i":13,"h":108,"t":14.4},{"i":13,"h":114,"t":15.6},{"i":13,"h":120,"t":10.7},{"i":13,"h":126,"t":6.3},{"i":13,"h":132,"t":17.4},{"i":13,"h":138,"t":18.6},{"i":13,"h":144,"t":12.7},{"i":13,"h":150,"t":11.3},{"i":13,"h":156,"t":17.0},{"i":13,"h":162,"t":17.5},{"i":13,"h":168,"t":9.6},{"i":13,"h":174,"t":8.5},{"i":13,"h":180,"t":25.7},{"i":13,"h":186,"t":26.0},{"i":13,"h":192,"t":14.1},{"i":13,"h":198,"t":13.3},{"i":13,"h":204,"t":20.3},{"i":13,"h":210,"t":20.8},{"i":13,"h":216,"t":12.0},{"i":13,"h":222,"t":10.3},{"i":13,"h":228,"t":9.1},{"i":13,"h":234,"t":10.5},{"i":13,"h":240,"t":7.0},{"i":13,"h":246,"t":5.0},{"i":13,"h":252,"t":16.0},{"i":13,"h":258,"t":17.2},{"i":13,"h":264,"t":11.5},{"i":13,"h":270,"t":8.7},{"i":13,"h":276,"t":20.3},{"i":13,"h":282,"t":21.9},{"i":13,"h":288,"t":13.4},{"i":13,"h":294,"t":11.4},{"i":13,"h":300,"t":27.1},{"i":13,"h":306,"t":28.6},{"i":13,"h":312,"t":18.0},{"i":13,"h":318,"t":15.8},{"i":13,"h":324,"t":26.9},{"i":13,"h":330,"t":28.0},{"i":13,"h":336,"t":18.0},{"i":13,"h":342,"t":15.2},{"i":13,"h":348,"t":24.4},{"i":13,"h":354,"t":25.2},{"i":13,"h":360,"t":17.7},
{"i":14,"h":6,"t":7.9},{"i":14,"h":12,"t":22.2},{"i":14,"h":18,"t":24.7},{"i":14,"h":24,"t":12.6},{"i":14,"h":30,"t":8.6},{"i":14,"h":36,"t":22.3},{"i":14,"h":42,"t":24.6},{"i":14,"h":48,"t":13.5},{"i":14,"h":54,"t":10.3},{"i":14,"h":60,"t":24.0},{"i":14,"h":66,"t":26.0},{"i":14,"h":72,"t":13.5},{"i":14,"h":78,"t":10.2},{"i":14,"h":84,"t":24.3},{"i":14,"h":90,"t":24.6},{"i":14,"h":96,"t":11.0},{"i":14,"h":102,"t":10.2},{"i":14,"h":108,"t":16.1},{"i":14,"h":114,"t":17.3},{"i":14,"h":120,"t":13.3},{"i":14,"h":126,"t":8.9},{"i":14,"h":132,"t":19.8},{"i":14,"h":138,"t":21.0},{"i":14,"h":144,"t":14.5},{"i":14,"h":150,"t":13.1},{"i":14,"h":156,"t":14.0},{"i":14,"h":162,"t":14.5},{"i":14,"h":168,"t":7.6},{"i":14,"h":174,"t":6.5},{"i":14,"h":180,"t":11.7},{"i":14,"h":186,"t":12.0},{"i":14,"h":192,"t":6.3},{"i":14,"h":198,"t":5.6},{"i":14,"h":204,"t":18.1},{"i":14,"h":210,"t":18.6},{"i":14,"h":216,"t":10.9},{"i":14,"h":222,"t":9.2},{"i":14,"h":228,"t":21.1},{"i":14,"h":234,"t":22.5},{"i":14,"h":240,"t":13.6},{"i":14,"h":246,"t":11.6},{"i":14,"h":252,"t":11.4},{"i":14,"h":258,"t":12.6},{"i":14,"h":264,"t":8.5},{"i":14,"h":270,"t":5.7},{"i":14,"h":276,"t":12.3},{"i":14,"h":282,"t":13.9},{"i":14,"h":288,"t":8.4},{"i":14,"h":294,"t":6.4},{"i":14,"h":300,"t":14.7},{"i":14,"h":306,"t":16.2},{"i":14,"h":312,"t":10.2},{"i":14,"h":318,"t":8.0},{"i":14,"h":324,"t":20.1},{"i":14,"h":330,"t":21.2},{"i":14,"h":336,"t":13.8},{"i":14,"h":342,"t":11.0},{"i":14,"h":348,"t":18.1},{"i":14,"h":354,"t":18.9},{"i":14,"h":360,"t":14.0},
{"i":15,"h":6,"t":8.0},{"i":15,"h":12,"t":21.8},{"i":15,"h":18,"t":24.3},{"i":15,"h":24,"t":13.0},{"i":15,"h":30,"t":9.0},{"i":15,"h":36,"t":21.9},{"i":15,"h":42,"t":24.2},{"i":15,"h":48,"t":13.9},{"i":15,"h":54,"t":10.7},{"i":15,"h":60,"t":23.6},{"i":15,"h":66,"t":25.6},{"i":15,"h":72,"t":13.0},{"i":15,"h":78,"t":9.7},{"i":15,"h":84,"t":23.7},{"i":15,"h":90,"t":24.0},{"i":15,"h":96,"t":10.3},{"i":15,"h":102,"t":9.5},{"i":15,"h":108,"t":14.0},{"i":15,"h":114,"t":15.2},{"i":15,"h":120,"t":10.1},{"i":15,"h":126,"t":5.7},{"i":15,"h":132,"t":15.4},{"i":15,"h":138,"t":16.6},{"i":15,"h":144,"t":11.2},{"i":15,"h":150,"t":9.8},{"i":15,"h":156,"t":9.5},{"i":15,"h":162,"t":10.0},{"i":15,"h":168,"t":4.6},{"i":15,"h":174,"t":3.5},{"i":15,"h":180,"t":13.6},{"i":15,"h":186,"t":13.9},{"i":15,"h":192,"t":7.8},{"i":15,"h":198,"t":7.1},{"i":15,"h":204,"t":13.6},{"i":15,"h":210,"t":14.1},{"i":15,"h":216,"t":8.0},{"i":15,"h":222,"t":6.3},{"i":15,"h":228,"t":17.5},{"i":15,"h":234,"t":18.9},{"i":15,"h":240,"t":11.7},{"i":15,"h":246,"t":9.7},{"i":15,"h":252,"t":25.5},{"i":15,"h":258,"t":26.7},{"i":15,"h":264,"t":17.7},{"i":15,"h":270,"t":14.9},{"i":15,"h":276,"t":17.1},{"i":15,"h":282,"t":18.7},{"i":15,"h":288,"t":11.4},{"i":15,"h":294,"t":9.4},{"i":15,"h":300,"t":9.9},{"i":15,"h":306,"t":11.4},{"i":15,"h":312,"t":7.2},{"i":15,"h":318,"t":5.0},{"i":15,"h":324,"t":12.9},{"i":15,"h":330,"t":14.0},{"i":15,"h":336,"t":9.3},{"i":15,"h":342,"t":6.5},{"i":15,"h":348,"t":22.8},{"i":15,"h":354,"t":23.6},{"i":15,"h":360,"t":16.7},
{"i":16,"h":6,"t":8.0},{"i":16,"h":12,"t":22.5},{"i":16,"h":18,"t":25.0},{"i":16,"h":24,"t":12.8},{"i":16,"h":30,"t":8.8},{"i":16,"h":36,"t":22.6},{"i":16,"h":42,"t":24.9},{"i":16,"h":48,"t":13.7},{"i":16,"h":54,"t":10.5},{"i":16,"h":60,"t":24.3},{"i":16,"h":66,"t":26.3},{"i":16,"h":72,"t":15.1},{"i":16,"h":78,"t":11.8},{"i":16,"h":84,"t":26.3},{"i":16,"h":90,"t":26.6},{"i":16,"h":96,"t":13.4},{"i":16,"h":102,"t":12.6},{"i":16,"h":108,"t":14.6},{"i":16,"h":114,"t":15.8},{"i":16,"h":120,"t":11.0},{"i":16,"h":126,"t":6.6},{"i":16,"h":132,"t":19.0},{"i":16,"h":138,"t":20.2},{"i":16,"h":144,"t":13.9},{"i":16,"h":150,"t":12.5},{"i":16,"h":156,"t":15.5},{"i":16,"h":162,"t":16.0},{"i":16,"h":168,"t":8.6},{"i":16,"h":174,"t":7.5},{"i":16,"h":180,"t":15.3},{"i":16,"h":186,"t":15.6},{"i":16,"h":192,"t":8.9},{"i":16,"h":198,"t":8.2},{"i":16,"h":204,"t":23.9},{"i":16,"h":210,"t":24.4},{"i":16,"h":216,"t":13.8},{"i":16,"h":222,"t":12.1},{"i":16,"h":228,"t":15.1},{"i":16,"h":234,"t":16.5},{"i":16,"h":240,"t":10.3},{"i":16,"h":246,"t":8.3},{"i":16,"h":252,"t":17.1},{"i":16,"h":258,"t":18.3},{"i":16,"h":264,"t":12.2},{"i":16,"h":270,"t":9.4},{"i":16,"h":276,"t":9.9},{"i":16,"h":282,"t":11.5},{"i":16,"h":288,"t":6.9},{"i":16,"h":294,"t":4.9},{"i":16,"h":300,"t":19.9},{"i":16,"h":306,"t":21.4},{"i":16,"h":312,"t":13.5},{"i":16,"h":318,"t":11.3},{"i":16,"h":324,"t":23.7},{"i":16,"h":330,"t":24.8},{"i":16,"h":336,"t":16.0},{"i":16,"h":342,"t":13.2},{"i":16,"h":348,"t":14.4},{"i":16,"h":354,"t":15.2},{"i":16,"h":360,"t":11.7}
]
},
"layer":[
{"data":{"name":"days"},"mark":{"type":"rule","color":"#5a5a5a","strokeWidth":1},
 "encoding":{"x":{"field":"h","type":"quantitative","scale":{"domain":[6,359.9],"nice":false,"zero":false},
  "axis":{"values":[6,12,18,24,30,36,42,48,54,60,66,72,78,84,90,96,102,108,114,120,126,132,138,144,150,156,162,168,174,180,186,192,198,204,210,216,222,228,234,240,246,252,258,264,270,276,282,288,294,300,306,312,318,324,330,336,342,348,354],"tickCount":200,
   "labelExpr":"datum.value % 24 == 12 ? ['Zo 6','Ma 7','Di 8','Wo 9','Do 10','Vr 11','Za 12','Zo 13','Ma 14','Di 15','Wo 16','Do 17','Vr 18','Za 19','Zo 20'][floor(datum.value / 24)] : ''",
   "labelOverlap":false,"labelBound":false,"labelFlush":false,"labelFontSize":12,"labelPadding":3}}}},
{"data":{"values":[{"t":0}]},"mark":{"type":"rule","color":"#000","strokeWidth":2},
 "encoding":{"y":{"field":"t","type":"quantitative","scale":{"domain":[-5,35],"nice":false},
  "axis":{"values":[-5,0,5,10,15,20,25,30,35],"tickCount":20,"labelFontSize":13,"labelPadding":3,"tickSize":6}}}},
{"data":{"name":"leden"},"mark":{"type":"line","stroke":"#3f9f2c","strokeWidth":1.1,"opacity":0.55,"clip":true},
 "encoding":{"x":{"field":"h","type":"quantitative"},"y":{"field":"t","type":"quantitative"},"detail":{"field":"i","type":"nominal"}}},
{"data":{"name":"main"},"transform":[{"filter":"datum.s == 'mediaan (middelste waarde)'"}],"mark":{"type":"line","clip":true},
 "encoding":{"x":{"field":"h","type":"quantitative"},"y":{"field":"t","type":"quantitative"},
  "color":{"field":"s","type":"nominal","scale":{"domain":["Oper.","Controle","Leden","gemiddelde","mediaan (middelste waarde)"],"range":["#d83a3c","#3142c6","#9fd596","#111111","#cc22cc"]},
   "legend":{"orient":"none","legendX":-4,"legendY":-19,"direction":"horizontal","columns":5,"title":null,"symbolType":"stroke","symbolSize":361,"labelFontSize":13,"labelColor":"#222","labelOffset":3,"columnPadding":24,"padding":0,"labelLimit":400}},
  "strokeDash":{"field":"s","type":"nominal","scale":{"domain":["Oper.","Controle","Leden","gemiddelde","mediaan (middelste waarde)"],"range":[[1,0],[1,0],[1,0],[2.5,2.5],[6,3,2,3]]}},
  "strokeWidth":{"field":"s","type":"nominal","scale":{"domain":["Oper.","Controle","Leden","gemiddelde","mediaan (middelste waarde)"],"range":[4,4,1,3,2.5]}}}},
{"data":{"name":"main"},"transform":[{"filter":"datum.s == 'gemiddelde'"}],"mark":{"type":"line","clip":true},
 "encoding":{"x":{"field":"h","type":"quantitative"},"y":{"field":"t","type":"quantitative"},"color":{"field":"s","type":"nominal"},"strokeDash":{"field":"s","type":"nominal"},"strokeWidth":{"field":"s","type":"nominal"}}},
{"data":{"name":"main"},"transform":[{"filter":"datum.s == 'Controle'"}],"mark":{"type":"line","clip":true},
 "encoding":{"x":{"field":"h","type":"quantitative"},"y":{"field":"t","type":"quantitative"},"color":{"field":"s","type":"nominal"},"strokeDash":{"field":"s","type":"nominal"},"strokeWidth":{"field":"s","type":"nominal"}}},
{"data":{"name":"main"},"transform":[{"filter":"datum.s == 'Oper.'"}],"mark":{"type":"line","clip":true},
 "encoding":{"x":{"field":"h","type":"quantitative"},"y":{"field":"t","type":"quantitative"},"color":{"field":"s","type":"nominal"},"strokeDash":{"field":"s","type":"nominal"},"strokeWidth":{"field":"s","type":"nominal"}}}
]
}
